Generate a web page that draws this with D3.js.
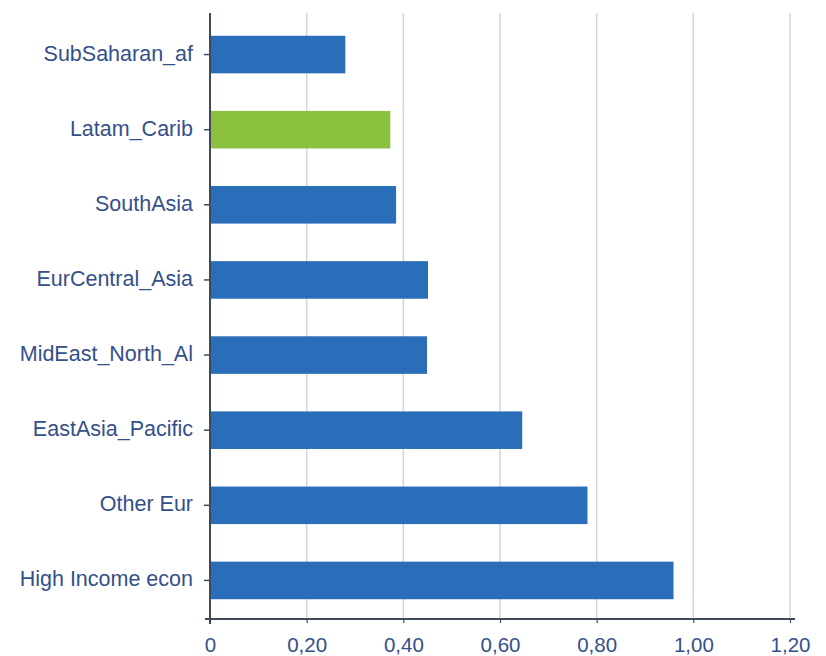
<!DOCTYPE html>
<html>
<head>
<meta charset="utf-8">
<script src="https://cdn.jsdelivr.net/npm/d3@7"></script>
<style>
  html, body { margin: 0; padding: 0; background: #fff; }
  svg { display: block; }
  text { font-family: "Liberation Sans", Arial, sans-serif; }
</style>
</head>
<body>
<svg id="chart" width="826" height="656"></svg>
<script>
const categories = ["SubSaharan_af", "Latam_Carib", "SouthAsia", "EurCentral_Asia",
                    "MidEast_North_Af", "EastAsia_Pacific", "Other Eur", "High Income econ"];
const labels = ["SubSaharan_af", "Latam_Carib", "SouthAsia", "EurCentral_Asia",
                "MidEast_North_Al", "EastAsia_Pacific", "Other Eur", "High Income econ"];
const values = [0.28, 0.373, 0.385, 0.451, 0.449, 0.646, 0.781, 0.959];
const highlight = ["Latam_Carib"];
const xTicks = [0, 0.2, 0.4, 0.6, 0.8, 1.0, 1.2];
const xTickLabels = ["0", "0,20", "0,40", "0,60", "0,80", "1,00", "1,20"];

(function () {
const svg = d3.select("#chart");
const mLeft = 210, mRight = 793, mTop = 17, mBottom = 618;
const axisTop = 13, axisBottom = 619;

const x = d3.scaleLinear().domain([0, 1.2]).range([mLeft, 790]);
const y = d3.scaleBand().domain(categories).range([mTop, mBottom]).paddingInner(0.5).paddingOuter(0.25);

// gridlines
svg.append("g").selectAll("line").data(xTicks.slice(1)).join("line")
  .attr("x1", d => x(d)).attr("x2", d => x(d))
  .attr("y1", axisTop).attr("y2", axisBottom)
  .attr("stroke", "#d2d4d8").attr("stroke-width", 1.5);

// bars
svg.append("g").selectAll("rect").data(categories).join("rect")
  .attr("x", x(0))
  .attr("y", d => y(d))
  .attr("width", (d, i) => x(values[i]) - x(0))
  .attr("height", y.bandwidth())
  .attr("fill", d => highlight.includes(d) ? "#8cc13f" : "#2a6db8");

const axisColor = "#3e4a5a";
const textColor = "#34508a";

// y axis
const yAxis = svg.append("g").attr("transform", `translate(${mLeft},0)`)
  .call(d3.axisLeft(y).tickSize(6).tickPadding(11).tickFormat((d, i) => labels[i]));
yAxis.select(".domain").remove();
yAxis.selectAll(".tick line").attr("stroke", axisColor).attr("stroke-width", 1.5);
yAxis.selectAll(".tick text").attr("fill", textColor).attr("dy", "0.28em").style("font-size", "21.5px");

svg.append("line").attr("x1", mLeft).attr("x2", mLeft)
  .attr("y1", axisTop).attr("y2", axisBottom + 5)
  .attr("stroke", axisColor).attr("stroke-width", 2);

// x axis
const xAxis = svg.append("g").attr("transform", `translate(0,${axisBottom})`)
  .call(d3.axisBottom(x).tickValues(xTicks).tickSize(4).tickPadding(14)
    .tickFormat((d, i) => xTickLabels[i]));
xAxis.select(".domain").remove();
xAxis.selectAll(".tick line").attr("stroke", axisColor).attr("stroke-width", 1.2);
xAxis.selectAll(".tick text").attr("fill", textColor).style("font-size", "20.5px");

svg.append("line").attr("x1", mLeft - 5).attr("x2", mRight + 2)
  .attr("y1", axisBottom).attr("y2", axisBottom)
  .attr("stroke", axisColor).attr("stroke-width", 2);
})();
</script>
</body>
</html>
